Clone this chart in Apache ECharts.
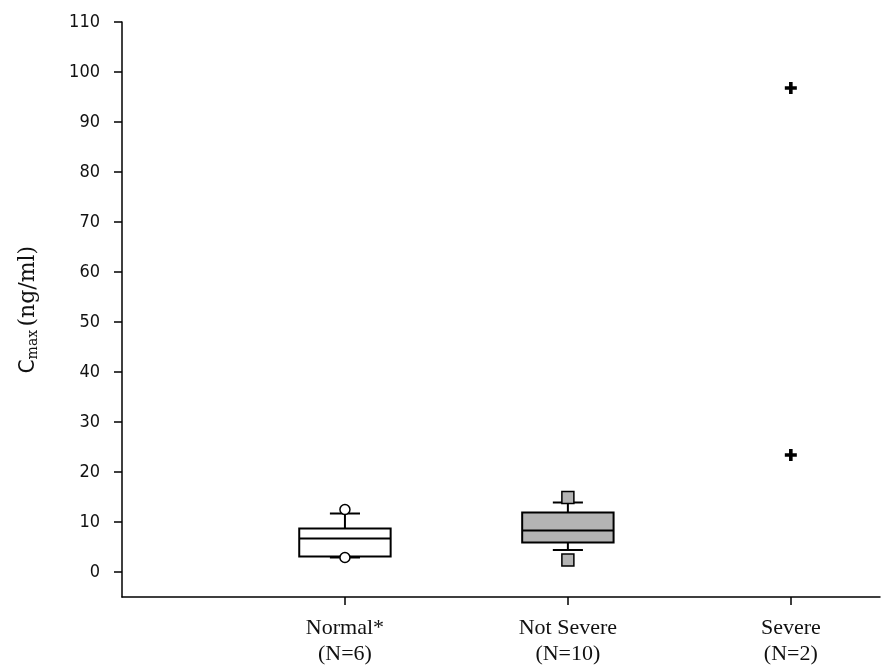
<!DOCTYPE html>
<html><head><meta charset="utf-8">
<script src="https://cdn.jsdelivr.net/npm/echarts@6/dist/echarts.min.js"></script>
<style>html,body{margin:0;padding:0;background:#fff}#c{width:883px;height:669px}</style>
</head><body><div id="c"></div>
<script>
// Categories (x positions 1,2,3)
const categories = ['Normal*\n(N=6)', 'Not Severe\n(N=10)', 'Severe\n(N=2)'];
const yTicks = [0,10,20,30,40,50,60,70,80,90,100,110];
// Box stats: [category index, lower whisker, Q1, median, Q3, upper whisker]
const boxNormal    = [1, 2.9, 3.1, 6.7, 8.7, 11.7];
const boxNotSevere = [2, 4.4, 5.9, 8.3, 11.9, 13.9];
// Individual points
const ptsNormal    = [[1, 12.5], [1, 2.9]];
const ptsNotSevere = [[2, 14.9], [2, 2.4]];
const ptsSevere    = [[3, 96.8], [3, 23.4]];

const boxFill = ['#ffffff', '#b4b4b4'];
const chart = echarts.init(document.getElementById('c'));
const BOXW = 0.41, CAPW = 0.135;

function renderBox(params, api) {
  const x = api.value(0);
  const lo = api.coord([x - BOXW/2, api.value(2)]);
  const hi = api.coord([x + BOXW/2, api.value(4)]);
  const wMin = api.coord([x, api.value(1)]);
  const wMax = api.coord([x, api.value(5)]);
  const med = api.value(3);
  const mL = api.coord([x - BOXW/2, med]);
  const mR = api.coord([x + BOXW/2, med]);
  const cL = api.coord([x - CAPW/2, 0])[0];
  const cR = api.coord([x + CAPW/2, 0])[0];
  const ls = {stroke:'#000', lineWidth:2};
  return {type:'group', children:[
    {type:'line', shape:{x1:wMax[0],y1:wMax[1],x2:wMax[0],y2:hi[1]}, style:ls},
    {type:'line', shape:{x1:cL,y1:wMax[1],x2:cR,y2:wMax[1]}, style:ls},
    {type:'line', shape:{x1:wMin[0],y1:wMin[1],x2:wMin[0],y2:lo[1]}, style:ls},
    {type:'line', shape:{x1:cL,y1:wMin[1],x2:cR,y2:wMin[1]}, style:ls},
    {type:'rect', shape:{x:lo[0], y:hi[1], width:hi[0]-lo[0], height:lo[1]-hi[1]},
      style:{fill: boxFill[params.dataIndex], stroke:'#000', lineWidth:2}},
    {type:'line', shape:{x1:mL[0],y1:mL[1],x2:mR[0],y2:mR[1]}, style:ls}
  ]};
}

const plusPath = 'path://M3.5,0 H6.5 V3.5 H10 V6.5 H6.5 V10 H3.5 V6.5 H0 V3.5 H3.5 Z';

chart.setOption({
  animation:false,
  grid:{left:122, right:3, top:22, bottom:72},
  xAxis:{type:'value', min:0, max:3.4,
    axisLine:{onZero:false, lineStyle:{color:'#000', width:1.5}},
    axisTick:{show:true, customValues:[1,2,3], length:8, lineStyle:{color:'#000', width:1.5}},
    axisLabel:{customValues:[1,2,3], formatter:v=>categories[Math.round(v)-1]||'',
      color:'#111', fontFamily:'Liberation Serif', fontSize:22, lineHeight:26, margin:18},
    splitLine:{show:false}},
  yAxis:{type:'value', min:-5, max:110,
    axisLine:{show:true, lineStyle:{color:'#000', width:1.5}},
    axisTick:{show:true, customValues:yTicks, length:8, lineStyle:{color:'#000', width:1.5}},
    axisLabel:{customValues:yTicks, color:'#111', fontFamily:'DejaVu Sans Condensed, DejaVu Sans', fontSize:18, margin:22},
    splitLine:{show:false},
    name:'{c|C}{s|max} {n|(ng/ml)}', nameLocation:'middle', nameGap:82, nameRotate:90,
    nameTextStyle:{rich:{
      c:{fontFamily:'DejaVu Sans Condensed, DejaVu Sans', fontSize:22, color:'#111'},
      s:{fontFamily:'DejaVu Serif', fontSize:14, color:'#111', padding:[10,0,0,0]},
      n:{fontFamily:'DejaVu Serif', fontSize:22, color:'#111'}
    }}},
  series:[
    {type:'custom', renderItem:renderBox, data:[boxNormal, boxNotSevere], z:2},
    {type:'scatter', data:ptsNormal, symbol:'circle', symbolSize:10, z:3,
      itemStyle:{color:'#fff', borderColor:'#000', borderWidth:1.5, opacity:1}},
    {type:'scatter', data:ptsNotSevere, symbol:'rect', symbolSize:12, z:3,
      itemStyle:{color:'#b4b4b4', borderColor:'#000', borderWidth:1.5, opacity:1}},
    {type:'scatter', data:ptsSevere, symbol:plusPath, symbolSize:12, z:3,
      itemStyle:{color:'#000', opacity:1}}
  ]
});
</script></body></html>
